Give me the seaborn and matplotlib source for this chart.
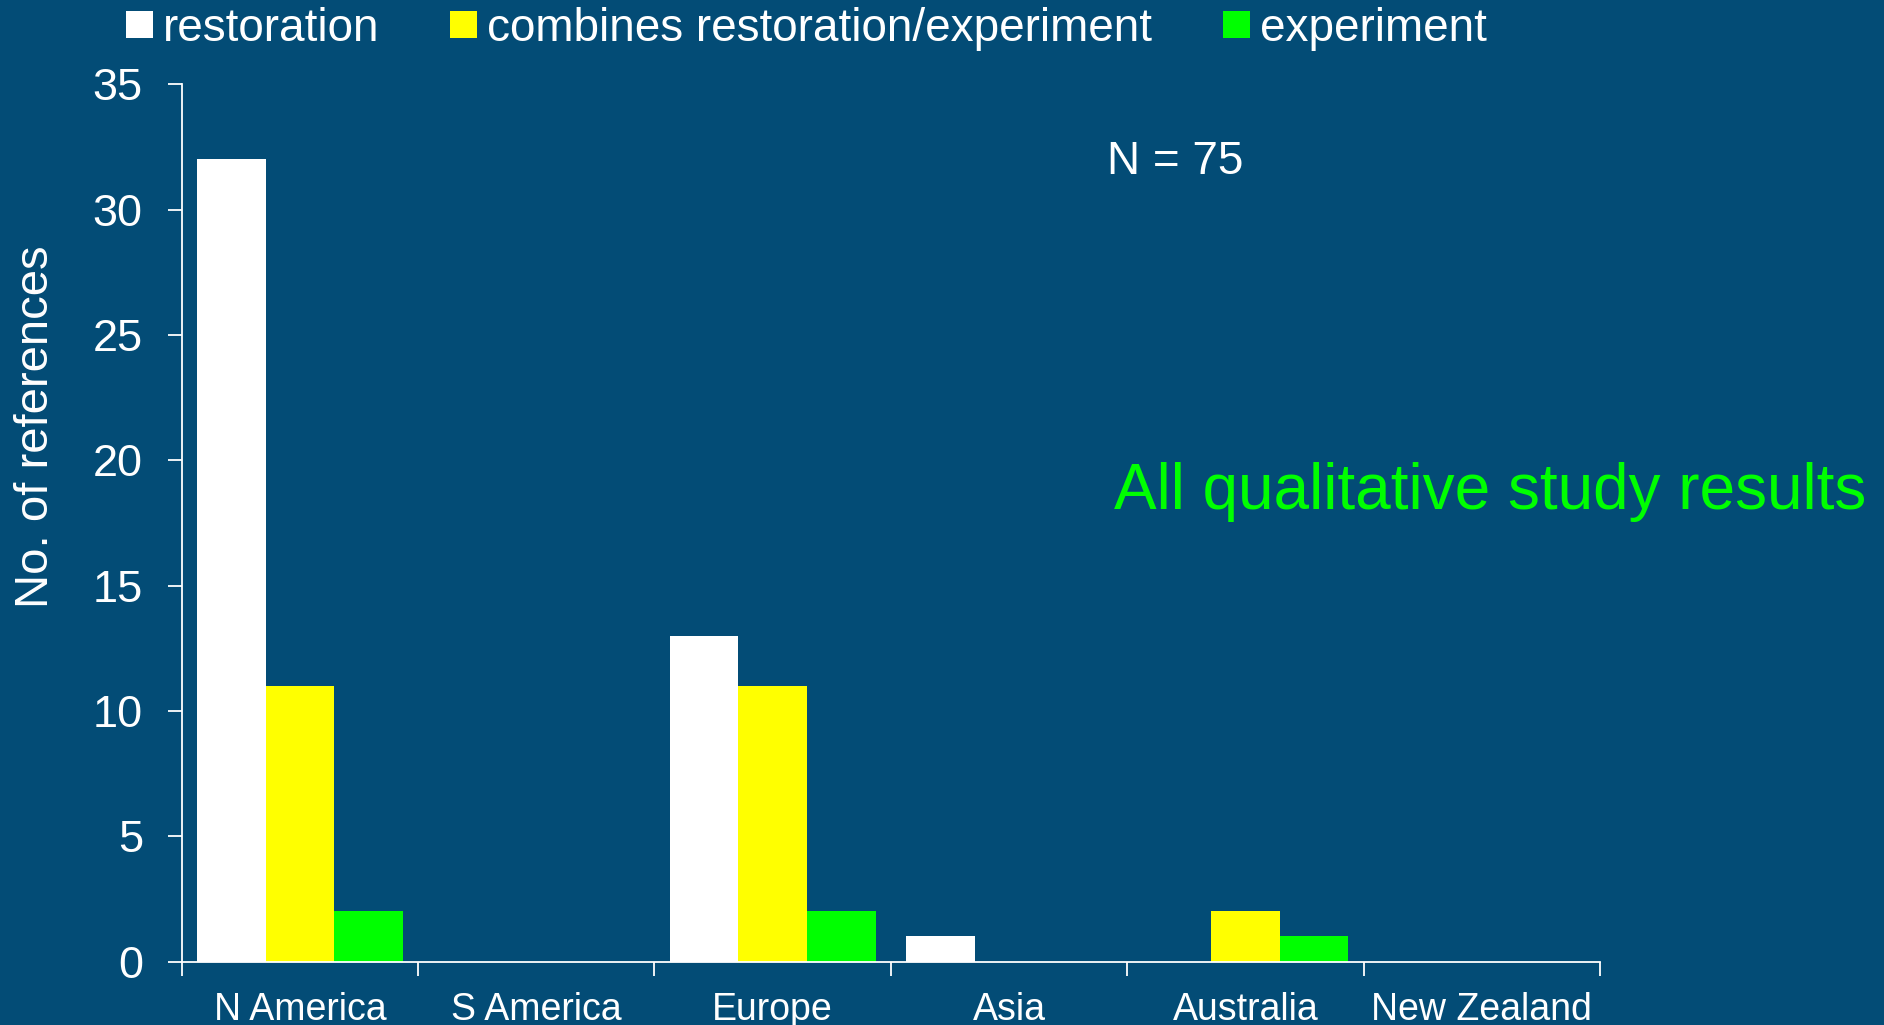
import matplotlib
matplotlib.use("Agg")
import matplotlib.pyplot as plt
import seaborn as sns
import pandas as pd

regions = ["N America", "S America", "Europe", "Asia", "Australia", "New Zealand"]
series_names = ["restoration", "combines restoration/experiment", "experiment"]
restoration = [32, 0, 13, 1, 0, 0]
combined = [11, 0, 11, 0, 2, 0]
experiment = [2, 0, 2, 0, 1, 0]
y_ticks = [0, 5, 10, 15, 20, 25, 30, 35]

BG = "#034C76"
colors = ["#FFFFFF", "#FFFF00", "#00FF00"]

rows = []
for name, vals in zip(series_names, [restoration, combined, experiment]):
    for r, v in zip(regions, vals):
        rows.append({"region": r, "type": name, "count": v})
df = pd.DataFrame(rows)

sns.set_theme(style="white")
plt.rcParams["font.family"] = ["Liberation Sans", "DejaVu Sans"]

fig = plt.figure(figsize=(18.84, 10.25), dpi=100, facecolor=BG)
ax = fig.add_axes([181.7 / 1884, 1 - 961.5 / 1025, (1600 - 181.7) / 1884, (961.5 - 84.3) / 1025])
ax.set_facecolor(BG)

sns.barplot(data=df, x="region", y="count", hue="type", order=regions,
            hue_order=series_names, palette=colors, saturation=1,
            width=0.872, linewidth=0, ax=ax, errorbar=None)

ax.set_xlim(-0.5, len(regions) - 0.5)
ax.set_ylim(0, 35)
ax.set_yticks(y_ticks)
ax.set_yticklabels([str(t) for t in y_ticks])
ax.set_xlabel("")
ax.set_ylabel("")

for s in ["top", "right"]:
    ax.spines[s].set_visible(False)
for s in ["left", "bottom"]:
    ax.spines[s].set_color("white")
    ax.spines[s].set_linewidth(1.3)

ax.tick_params(axis="y", which="major", direction="out", length=10, width=1.3,
               color="white", labelcolor="white", labelsize=32.5, pad=18, left=True)
ax.tick_params(axis="x", which="major", length=0, labelcolor="white", labelsize=27, pad=22)
ax.set_xticks([i - 0.5 for i in range(len(regions) + 1)], minor=True)
ax.tick_params(axis="x", which="minor", direction="out", length=10, width=1.3,
               color="white", bottom=True)

handles, labels = ax.get_legend_handles_labels()
if ax.get_legend() is not None:
    ax.get_legend().remove()
leg = fig.legend(handles, labels, loc="upper left", bbox_to_anchor=(126 / 1884, 1 - 7 / 1025),
                 ncol=3, frameon=False, fontsize=33.05, handlelength=0.58, handleheight=0.53,
                 handletextpad=0.22, columnspacing=1.55, borderpad=0, borderaxespad=0)
for t in leg.get_texts():
    t.set_color("white")

fig.text(36 / 1884, 1 - 427 / 1025, "No. of references", rotation=90, color="white",
         fontsize=34, ha="center", va="center")
fig.text(1107 / 1884, 1 - 174 / 1025, "N = 75", color="white", fontsize=33,
         ha="left", va="baseline")
fig.text(1114 / 1884, 1 - 509 / 1025, "All qualitative study results", color="#00FF00",
         fontsize=46, ha="left", va="baseline")

fig.savefig("out.png", dpi=100, facecolor=BG)
